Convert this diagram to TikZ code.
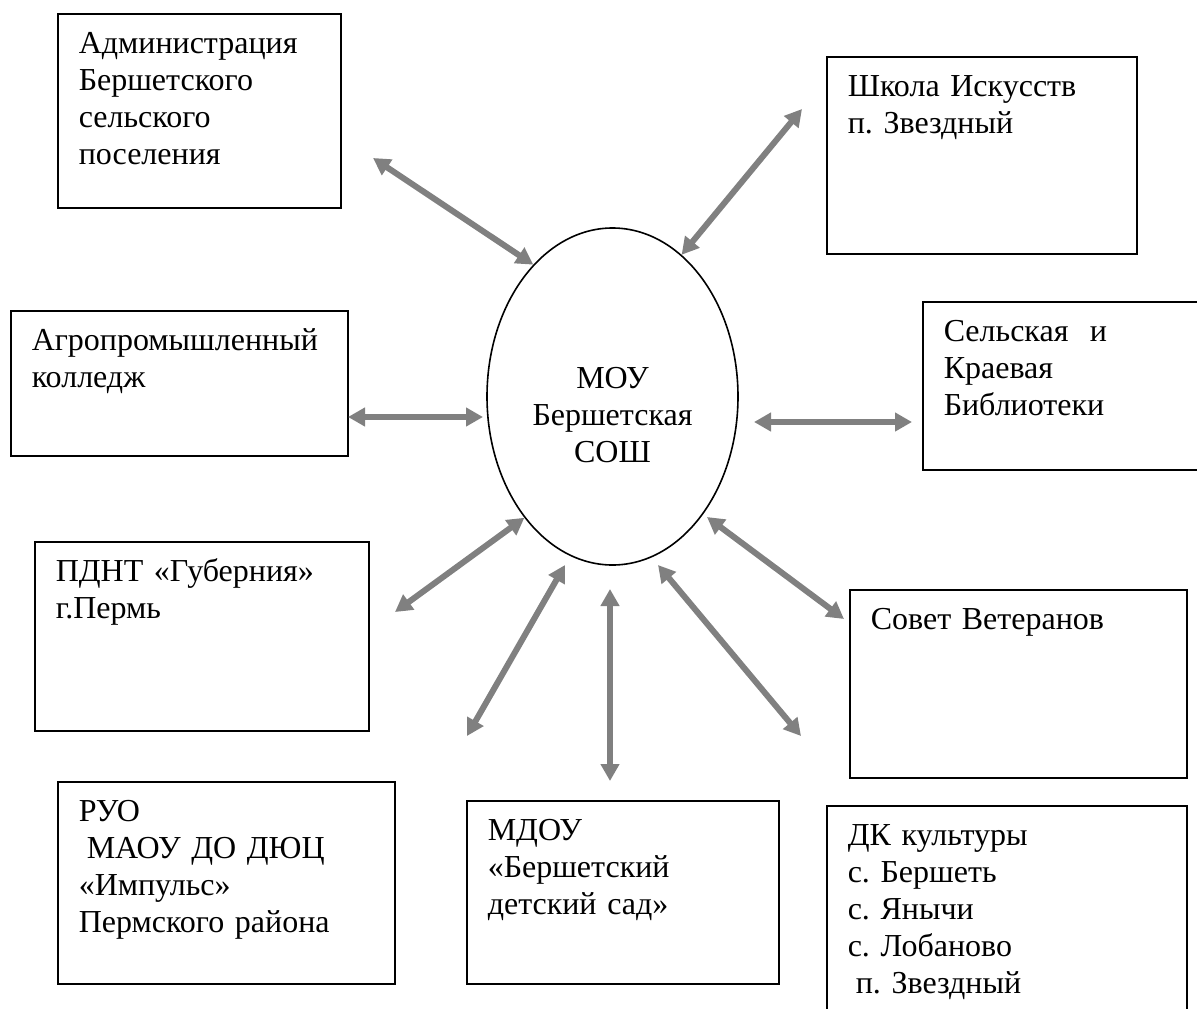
\documentclass[tikz,border=0pt]{standalone}
\usepackage{fontspec}
\setmainfont{Liberation Serif}
\usetikzlibrary{arrows.meta,shapes.geometric}
\definecolor{linkgray}{RGB}{128,128,128}
\newcommand{\diagfont}{\fontsize{32}{37}\selectfont\frenchspacing}

\begin{document}
\begin{tikzpicture}[x=1pt, y=-1pt,
    box/.style={draw, line width=1.5pt, rectangle, anchor=north west,
        inner xsep=21pt, inner ysep=0pt, align=left, text height=40pt,
        font=\diagfont},
    link/.style={draw=linkgray, line width=6pt,
        {Triangle[length=17pt,width=18pt]}-{Triangle[length=17pt,width=18pt]}}]
    \useasboundingbox (0,0) rectangle (1197,1009);

    % centre
    \node[ellipse, draw, line width=1.6pt, minimum width=251pt,
        minimum height=337pt, inner sep=0pt] (sosh) at (612.5,396.5) {};
    \node[font=\diagfont, text width=240pt, align=center, inner sep=0pt,
        text height=25pt, anchor=north] (soshtext) at (612.5,363)
        {МОУ\\Бершетская\\СОШ};

    % partners
    \node[box, text width=241pt, text depth=154pt] (adm) at (57,13)
        {Администрация\\Бершетского\\сельского\\поселения};
    \node[box, text width=295pt, text depth=105pt] (agro) at (10,310)
        {Агропромышленный\\колледж};
    \node[box, text width=268pt, text depth=157pt] (shkola) at (826,56)
        {Школа Искусств\\п. Звездный};
    \node[box, text width=248pt, text depth=128pt] (bibl) at (922,301)
        {Сельская\ \ и\\Краевая\\Библиотеки};
    \node[box, text width=292pt, text depth=149pt] (pdnt) at (34,541)
        {ПДНТ «Губерния»\\г.Пермь};
    \node[box, text width=295pt, text depth=162pt] (ruo) at (57,781)
        {РУО\\\hspace*{0.25em}МАОУ ДО ДЮЦ\\«Импульс»\\Пермского района};
    \node[box, text width=270pt, text depth=143pt] (mdou) at (466,800)
        {МДОУ\\«Бершетский\\детский сад»};
    \node[box, text width=295pt, text depth=148pt] (sovet) at (849,589)
        {Совет Ветеранов};
    \node[box, text width=318pt, text depth=210pt] (dk) at (826,805)
        {ДК культуры\\с. Бершеть\\с. Янычи\\с. Лобаново\\\hspace*{0.25em}п. Звездный};

    % free arrow ends
    \coordinate (admend) at (373,158);
    \coordinate (agroend) at (348,417);
    \coordinate (agroin) at (483,417);
    \coordinate (shkolaend) at (802,109);
    \coordinate (biblin) at (754,422);
    \coordinate (biblend) at (912,422);
    \coordinate (pdntend) at (395,612);
    \coordinate (ruoin) at (565,565);
    \coordinate (ruoend) at (467,736);
    \coordinate (mdouin) at (610,589);
    \coordinate (mdouend) at (610,781);
    \coordinate (dkin) at (658,565);
    \coordinate (dkend) at (801,736);
    \coordinate (sovetin) at (707,517);
    \coordinate (sovetend) at (844,619);

    % links
    \foreach \a/\b in {admend/sosh.121, agroend/agroin, shkolaend/sosh.64,
        biblin/biblend, pdntend/sosh.234, ruoend/ruoin, mdouin/mdouend,
        dkin/dkend, sovetin/sovetend}
        \draw[link] (\a) -- (\b);
\end{tikzpicture}
\end{document}
